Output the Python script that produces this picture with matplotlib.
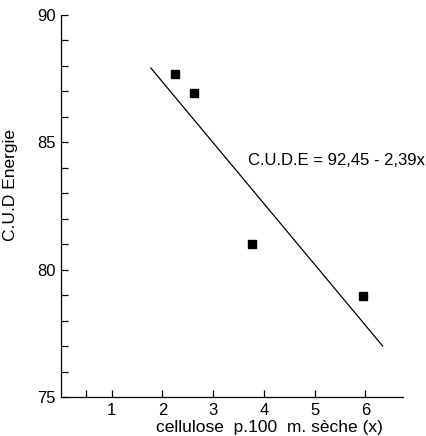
import numpy as np
import matplotlib.pyplot as plt

plt.rcParams['font.family'] = ['Liberation Sans', 'DejaVu Sans']

# points
cellulose = [2.25, 2.62, 3.76, 5.95]
cude = [87.7, 86.95, 81.0, 78.95]

# regression line as drawn
line_x = [1.77, 6.34]
line_y = [87.92, 77.0]

xtick_pos = [0.5, 1, 2, 3, 4, 5, 6]
xtick_lab = ['', '1', '2', '3', '4', '5', '6']
ytick_pos = list(range(75, 91))
ytick_lab = [str(v) if v % 5 == 0 else '' for v in ytick_pos]

fig = plt.figure(figsize=(4.27, 4.36), dpi=100)
ax = fig.add_axes([61 / 427, 1 - 397 / 436, 342 / 427, 382 / 436])

ax.plot(line_x, line_y, color='black', lw=0.9)
ax.plot(cellulose, cude, 's', color='black', ms=5.5)

ax.set_xlim(0, 6.74)
ax.set_ylim(75, 90)
ax.set_xticks(xtick_pos)
ax.set_xticklabels(xtick_lab)
ax.set_yticks(ytick_pos)
ax.set_yticklabels(ytick_lab)
ax.tick_params(direction='in', length=5, width=0.9, labelsize=12, pad=4)

ax.spines['top'].set_visible(False)
ax.spines['right'].set_visible(False)
for s in ['left', 'bottom']:
    ax.spines[s].set_linewidth(0.9)

ax.text(3.68, 84.3, 'C.U.D.E = 92,45 - 2,39x', fontsize=12, va='center', ha='left')
ax.set_ylabel('C.U.D Energie', fontsize=12.5)
ax.set_xlabel('cellulose  p.100  m. sèche (x)', fontsize=12.5)
ax.xaxis.set_label_coords(0.61, -0.06)
ax.yaxis.set_label_coords(-0.125, 0.555)

fig.savefig('out.png', dpi=100)
